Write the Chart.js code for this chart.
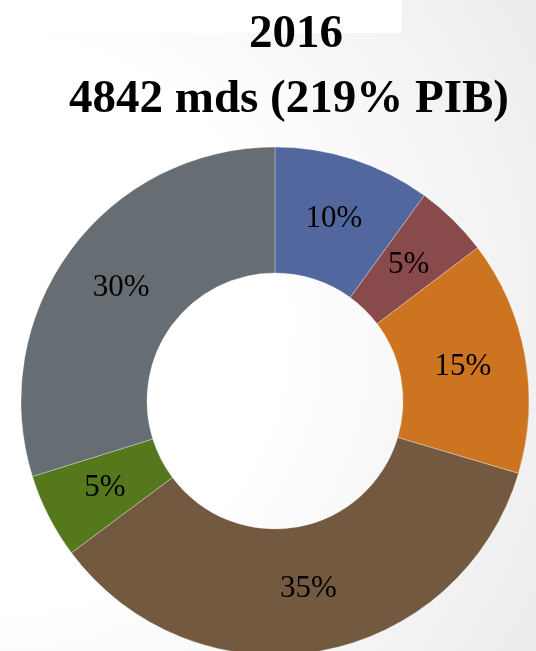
<!DOCTYPE html>
<html>
<head>
<meta charset="utf-8">
<script src="https://cdn.jsdelivr.net/npm/chart.js@4/dist/chart.umd.min.js"></script>
<style>
  html, body { margin: 0; padding: 0; }
  body {
    width: 536px; height: 651px; overflow: hidden; position: relative;
    background: radial-gradient(circle farthest-corner at 0% 50%, #ffffff 45%, #ececec 100%);
  }
  #titlebox { position: absolute; left: 0; top: 0; width: 402px; height: 33px; background: #ffffff; }
  #wrap { position: absolute; left: 0; top: 0; width: 536px; height: 651px; }
</style>
</head>
<body>
<div id="titlebox"></div>
<div id="wrap"><canvas id="c" width="536" height="651"></canvas></div>
<script>
// ---- data ----
const titleLines = ['2016', '4842 mds (219% PIB)'];
const categories = ['Catégorie 1', 'Catégorie 2', 'Catégorie 3', 'Catégorie 4', 'Catégorie 5', 'Catégorie 6'];
const shares = [10.0, 4.7, 14.9, 35.2, 5.4, 29.8];
const sliceColors = ['#53679f', '#884a4b', '#cc741f', '#73593f', '#56781c', '#666e73'];

const titlePlugin = {
  id: 'serifTitle',
  afterDraw(chart) {
    const ctx = chart.ctx;
    ctx.save();
    ctx.fillStyle = '#000000';
    ctx.font = 'bold 47px "Liberation Serif", "Times New Roman", serif';
    ctx.textAlign = 'center';
    ctx.textBaseline = 'alphabetic';
    ctx.fillText(titleLines[0], 296, 47);
    ctx.fillText(titleLines[1], 289, 112);
    ctx.restore();
  }
};

const labelPlugin = {
  id: 'sliceLabels',
  afterDatasetsDraw(chart) {
    const ctx = chart.ctx;
    const meta = chart.getDatasetMeta(0);
    ctx.save();
    ctx.fillStyle = '#000000';
    ctx.font = '31px "Liberation Serif", "Times New Roman", serif';
    ctx.textAlign = 'center';
    ctx.textBaseline = 'middle';
    meta.data.forEach((arc, i) => {
      const p = arc.tooltipPosition();
      ctx.fillText(Math.round(shares[i]) + '%', p.x, p.y);
    });
    ctx.restore();
  }
};

new Chart(document.getElementById('c'), {
  type: 'doughnut',
  data: {
    labels: categories,
    datasets: [{
      data: shares,
      backgroundColor: sliceColors,
      borderColor: 'rgba(255,255,255,0.3)',
      borderWidth: 1,
      hoverOffset: 0,
      radius: 254,
      cutout: '50.4%',
      clip: false
    }]
  },
  options: {
    responsive: false,
    animation: false,
    devicePixelRatio: 1,
    layout: { padding: { top: 151, bottom: 0, left: 14, right: 0 } },
    plugins: {
      legend: { display: false },
      title: { display: false },
      tooltip: { enabled: false }
    }
  },
  plugins: [labelPlugin, titlePlugin]
});
</script>
</body>
</html>
